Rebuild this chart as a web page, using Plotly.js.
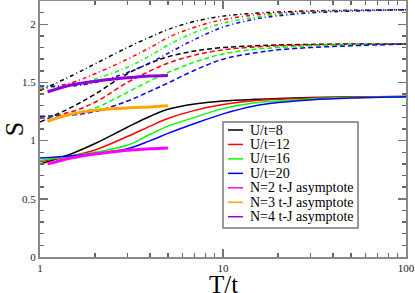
<!DOCTYPE html>
<html>
<head>
<meta charset="utf-8">
<script src="https://cdn.plot.ly/plotly-3.0.1.min.js"></script>
<style>
html,body{margin:0;padding:0;background:#fff;}
#chart{width:415px;height:293px;}
</style>
</head>
<body>
<div id="chart"></div>
<script>
// ---- data ----
var T = [1, 1.5, 2, 3, 4, 5, 7, 10, 15, 20, 30, 50, 100];
var uLabels = ["U/t=8", "U/t=12", "U/t=16", "U/t=20"];
var uColors = ["#000000", "#ff0000", "#00ff00", "#0000ff"];

// N=2 (solid)
var S_N2_U8  = [0.80, 0.89, 0.975, 1.115, 1.21, 1.27, 1.315, 1.34, 1.355, 1.362, 1.37, 1.376, 1.38];
var S_N2_U12 = [0.82, 0.87, 0.92, 1.035, 1.125, 1.19, 1.26, 1.31, 1.345, 1.355, 1.366, 1.374, 1.38];
var S_N2_U16 = [0.83, 0.87, 0.90, 0.96, 1.055, 1.125, 1.20, 1.275, 1.325, 1.34, 1.358, 1.37, 1.378];
var S_N2_U20 = [0.85, 0.87, 0.89, 0.93, 1.0, 1.062, 1.147, 1.23, 1.30, 1.327, 1.35, 1.366, 1.377];
// N=3 (dashed)
var S_N3_U8  = [1.16, 1.29, 1.40, 1.575, 1.665, 1.72, 1.77, 1.80, 1.815, 1.822, 1.827, 1.83, 1.83];
var S_N3_U12 = [1.19, 1.25, 1.33, 1.50, 1.60, 1.665, 1.735, 1.78, 1.805, 1.815, 1.823, 1.828, 1.83];
var S_N3_U16 = [1.20, 1.23, 1.28, 1.415, 1.515, 1.585, 1.675, 1.745, 1.785, 1.80, 1.815, 1.825, 1.83];
var S_N3_U20 = [1.21, 1.22, 1.25, 1.34, 1.425, 1.495, 1.605, 1.70, 1.755, 1.78, 1.80, 1.815, 1.83];
// N=4 (dash-dot)
var S_N4_U8  = [1.43, 1.56, 1.66, 1.80, 1.89, 1.955, 2.025, 2.07, 2.095, 2.105, 2.115, 2.12, 2.125];
var S_N4_U12 = [1.44, 1.50, 1.575, 1.70, 1.80, 1.885, 1.975, 2.04, 2.08, 2.095, 2.11, 2.118, 2.125];
var S_N4_U16 = [1.455, 1.475, 1.53, 1.63, 1.73, 1.82, 1.93, 2.01, 2.06, 2.083, 2.10, 2.115, 2.125];
var S_N4_U20 = [1.47, 1.47, 1.50, 1.585, 1.67, 1.75, 1.87, 1.975, 2.045, 2.072, 2.098, 2.113, 2.125];

// t-J asymptotes
var T_asym = [1.1, 1.3, 1.5, 2, 3, 4, 5];
var asymLabels = ["N=2 t-J asymptote", "N=3 t-J asymptote", "N=4 t-J asymptote"];
var asymColors = ["#ff00ff", "#ffa500", "#9400d3"];
var A_N2 = [0.80, 0.83, 0.852, 0.885, 0.917, 0.93, 0.937];
var A_N3 = [1.166, 1.205, 1.23, 1.26, 1.28, 1.29, 1.30];
var A_N4 = [1.42, 1.455, 1.48, 1.51, 1.54, 1.555, 1.56];

var xTickVals = [1, 10, 100];
var xTickText = ["1", "10", "100"];
var xMinorVals = [2,3,4,5,6,7,8,9,20,30,40,50,60,70,80,90];
var yTickVals = [0, 0.5, 1, 1.5, 2];
var yTickText = ["0", "0.5", "1", "1.5", "2"];

// ---- traces ----
var groups = [
  {series: [S_N2_U8, S_N2_U12, S_N2_U16, S_N2_U20], dash: "solid"},
  {series: [S_N3_U8, S_N3_U12, S_N3_U16, S_N3_U20], dash: "5px,3px"},
  {series: [S_N4_U8, S_N4_U12, S_N4_U16, S_N4_U20], dash: "4px,3px,1px,3px"}
];
var traces = [];
groups.forEach(function(g){
  g.series.forEach(function(ys, i){
    traces.push({x: T, y: ys, mode: "lines", name: uLabels[i], showlegend: false,
      line: {color: uColors[i], width: 1.5, dash: g.dash, shape: "spline", smoothing: 1}});
  });
});
[A_N2, A_N3, A_N4].forEach(function(ys, i){
  traces.push({x: T_asym, y: ys, mode: "lines", name: asymLabels[i], showlegend: false,
    line: {color: asymColors[i], width: 3, shape: "spline", smoothing: 1}});
});

// ---- layout ----
var W = 415, H = 293, mL = 40, mR = 9, mT = 1, mB = 36;
var pw = W - mL - mR, ph = H - mT - mB;
function px(xp){ return (xp - mL) / pw; }
function py(yp){ return (H - mB - yp) / ph; }

var legendNames = uLabels.concat(asymLabels);
var legendColors = uColors.concat(asymColors);
var shapes = [{type: "rect", xref: "paper", yref: "paper",
  x0: px(223), x1: px(358), y0: py(228), y1: py(122),
  fillcolor: "#ffffff", line: {color: "#777777", width: 1.5}, layer: "above"}];
var annotations = [];
legendNames.forEach(function(n, i){
  var yc = 130 + 14.45 * i;
  shapes.push({type: "line", xref: "paper", yref: "paper",
    x0: px(228), x1: px(243), y0: py(yc), y1: py(yc),
    line: {color: legendColors[i], width: 1.5}, layer: "above"});
  annotations.push({xref: "paper", yref: "paper", x: px(248), y: py(yc),
    xanchor: "left", yanchor: "middle", showarrow: false, text: n,
    font: {family: "Liberation Serif", size: 14, color: "#000"}});
});
// x-axis title (placed below the tick labels, reaching the page edge as in the reference)
annotations.push({xref: "paper", yref: "paper", x: 0.5, y: py(284),
  xanchor: "center", yanchor: "middle", showarrow: false, text: "T/t", borderpad: 0,
  font: {family: "Liberation Serif", size: 25, color: "#000"}});

var axisCommon = {
  showline: true, linecolor: "#888888", linewidth: 2, mirror: "ticks",
  ticks: "inside", ticklen: 8, tickwidth: 1.5, tickcolor: "#777777",
  showgrid: false, zeroline: false,
  tickfont: {family: "Liberation Serif", size: 11, color: "#222"}
};

var layout = {
  width: W, height: H,
  margin: {l: mL, r: mR, t: mT, b: mB},
  paper_bgcolor: "#ffffff", plot_bgcolor: "#ffffff",
  showlegend: false,
  xaxis: Object.assign({}, axisCommon, {
    type: "log", range: [0, 2],
    tickmode: "array", tickvals: xTickVals, ticktext: xTickText,
    minor: {tickmode: "array", tickvals: xMinorVals, ticks: "inside", ticklen: 4, tickwidth: 1.5, tickcolor: "#666666", showgrid: false}
  }),
  yaxis: Object.assign({}, axisCommon, {
    range: [0, 2.2],
    tickmode: "array", tickvals: yTickVals, ticktext: yTickText,
    minor: {dtick: 0.1, ticks: "inside", ticklen: 4, tickwidth: 1.5, tickcolor: "#666666", showgrid: false},
    title: {text: "S", font: {family: "Liberation Serif", size: 26, color: "#000"}, standoff: 6}
  }),
  shapes: shapes,
  annotations: annotations
};

Plotly.newPlot("chart", traces, layout, {staticPlot: true, displayModeBar: false});
</script>
</body>
</html>
